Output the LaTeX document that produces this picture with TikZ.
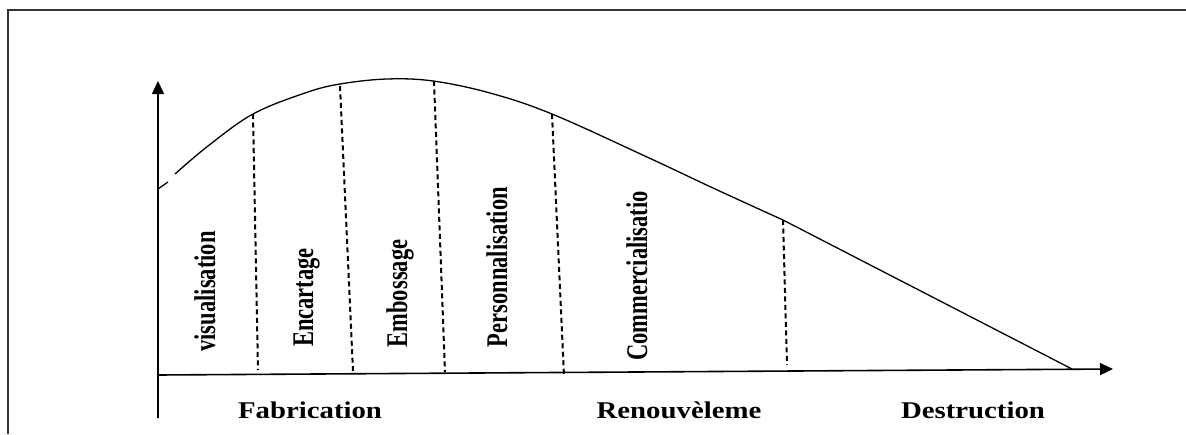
\documentclass[tikz,border=0pt]{standalone}
\usepackage{fontspec}
\setmainfont{Liberation Serif}
\usetikzlibrary{arrows.meta}

\begin{document}
\begin{tikzpicture}[x=1pt,
                    y=-1pt,
                    >={Triangle[length=13pt,width=12pt]},
                    line width=1.3pt,
                    stg/.style={rotate=90, anchor=base, inner sep=0pt,
                                font=\bfseries\fontsize{30}{30}\selectfont},
                    phs/.style={anchor=base, inner sep=0pt,
                                font=\bfseries\fontsize{24}{24}\selectfont},
                    cut/.style={line width=2pt, dash pattern=on 5pt off 3.5pt}
                    %ax/.style={line width=1.7pt}
                    ]
  \useasboundingbox (0,0) rectangle (1186,434);
  \draw[line width=1.6pt, black!80] (1186,10) -- (8,10) -- (8,434);

  % axes
  \coordinate (o) at (158,418);
  \coordinate (yt) at (158,81);
  \coordinate (xl) at (158,375);
  \coordinate (xr) at (1113,369);
  \draw[->, line width=1.6pt] (o) -- (yt);
  \draw[->, line width=1.6pt] (xl) -- (xr);

  % curve
  \coordinate (c1) at (253,114);
  \coordinate (c2) at (340,86);
  \coordinate (c3) at (434,81);
  \coordinate (c4) at (552,114);
  \coordinate (c5) at (783,220);
  \coordinate (end) at (1072,369);
  \draw (158,189) -- (168,182);
  \draw plot[smooth, tension=0.6] coordinates {(175,174) (208,146) (253,114)
        (305,93) (340,84) (387,79) (433,81) (490,93) (552,114)
        (647,157) (713,188) (783,220)} -- (end);

  \coordinate (b1) at (258,370);
  \coordinate (b2) at (353,371);
  \coordinate (b3) at (445,372);
  \coordinate (b4) at (564,376);
  \coordinate (b5) at (787,365);
  \draw[cut] (c1) -- (b1);
  \draw[cut] (c2) -- (b2);
  \draw[cut] (c3) -- (b3);
  \draw[cut] (c4) -- (b4);
  \draw[cut] (c5) -- (b5);

  \node[stg] (vis) at (215,291.5) {\scalebox{0.75}[1]{visualisation}};
  \node[stg] (enc) at (313,297.5) {\scalebox{0.75}[1]{Encartage}};
  \node[stg] (emb) at (407,293.5) {\scalebox{0.75}[1]{Embossage}};
  \node[stg] (per) at (507,267) {\scalebox{0.75}[1]{Personnalisation}};
  \node[stg] (com) at (647,276) {\scalebox{0.75}[1]{Commercialisatio}};

  \node[phs] (fab) at (310,418) {\scalebox{1.2}[1]{Fabrication}};
  \node[phs] (ren) at (679,418) {\scalebox{1.2}[1]{Renouvèleme}};
  \node[phs] (des) at (973,418) {\scalebox{1.2}[1]{Destruction}};
\end{tikzpicture}
\end{document}
